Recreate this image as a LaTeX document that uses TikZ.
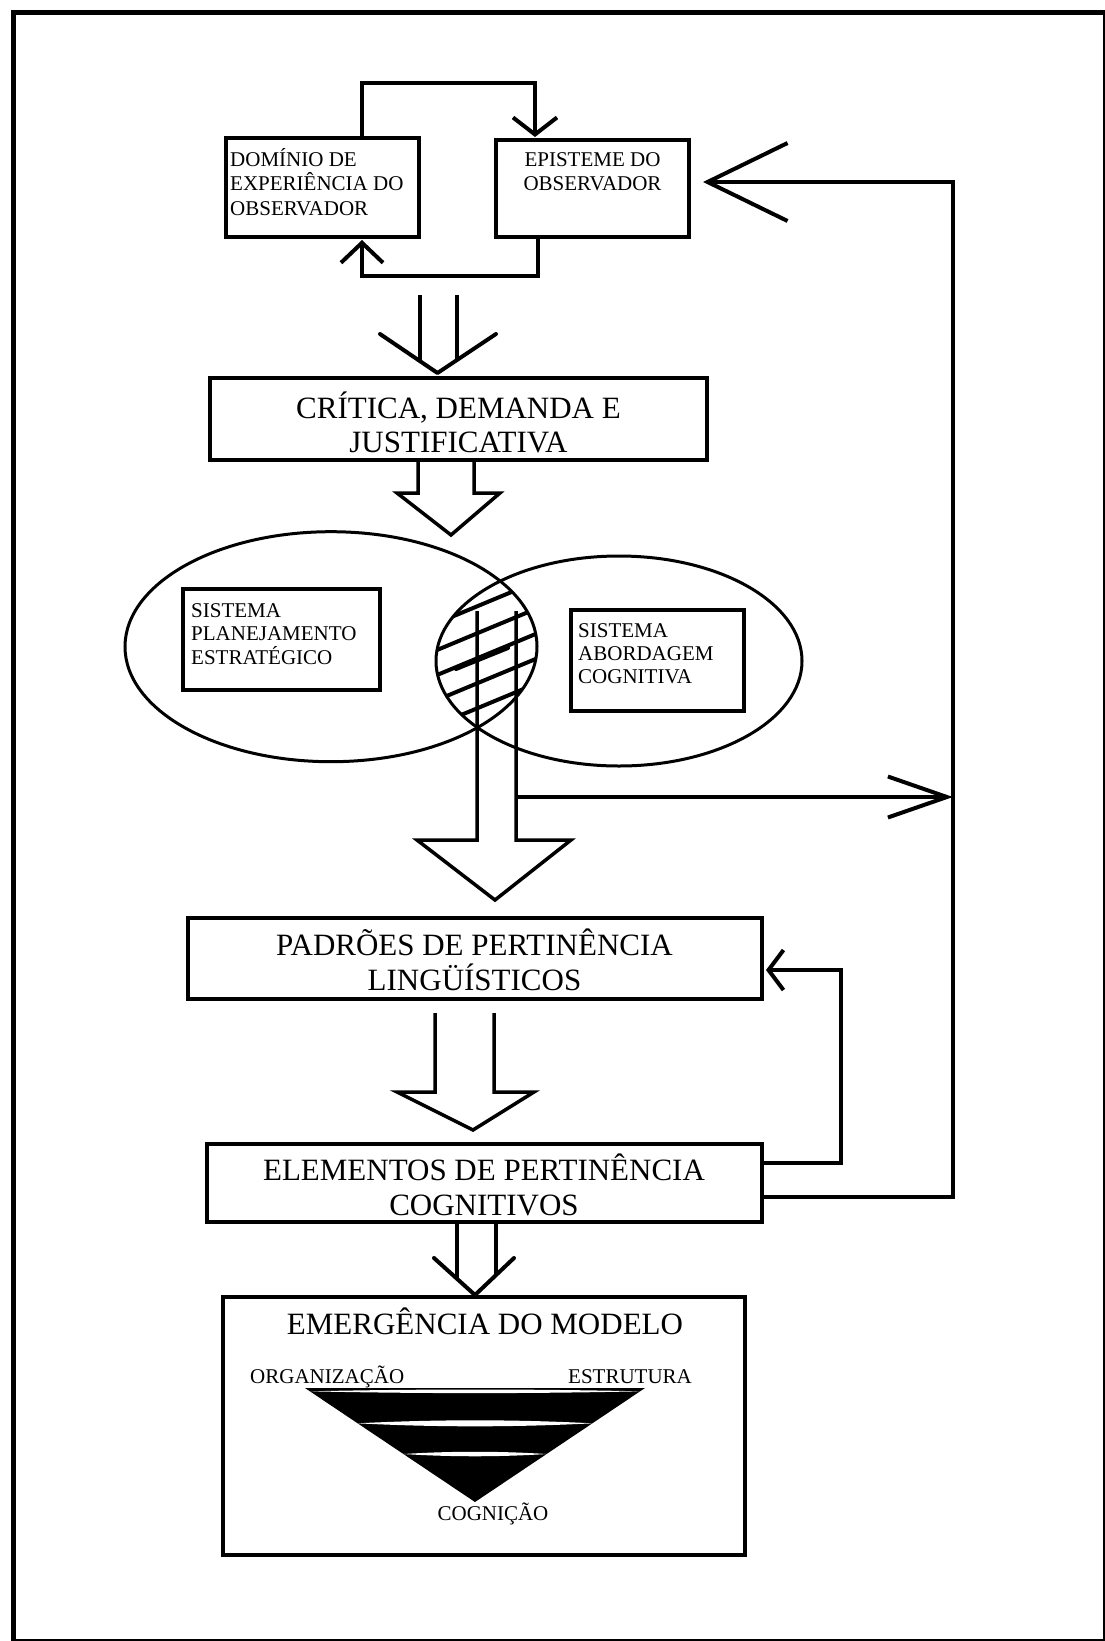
\documentclass[tikz,border=0pt]{standalone}
\usepackage{fontspec}
\setmainfont{Liberation Serif}
\usetikzlibrary{arrows.meta}
\begin{document}
\begin{tikzpicture}[x=1pt,y=-1pt,
  boxst/.style={draw, line width=4pt, rectangle, inner sep=0pt, outer sep=0pt},
  smallbox/.style={draw, line width=3.5pt, rectangle, inner sep=0pt, outer sep=0pt},
  bigtxt/.style={font=\fontsize{31}{35}\selectfont, inner sep=0pt, anchor=base},
  smalltxt/.style={font=\fontsize{21}{24}\selectfont, inner sep=0pt},
  conn/.style={line width=4pt, line join=miter},
  chev/.style={line width=4pt, line join=round, line cap=round},
  blk/.style={line width=3.5pt, line join=miter},
  ell/.style={line width=3pt},
]
\fill[white] (0,0) rectangle (1105,1641);
\useasboundingbox (0,0) rectangle (1105,1641);

% frame
\draw[line width=5pt] (13.5,1641) -- (13.5,12) -- (1105,12);
\draw[line width=2.5pt] (1104,12) -- (1104,1640) -- (13.5,1640);

% top boxes
\node[boxst, minimum width=193pt, minimum height=99pt] (dom) at (322.5,187.5) {};
\node[smalltxt, anchor=base west] (dom1) at (230,166) {DOMÍNIO DE};
\node[smalltxt, anchor=base west] (dom2) at (230,190.5) {EXPERIÊNCIA DO};
\node[smalltxt, anchor=base west] (dom3) at (230,215) {OBSERVADOR};

\node[boxst, minimum width=193pt, minimum height=97pt] (epi) at (592.5,188.5) {};
\node[smalltxt, anchor=base] (epi1) at (592.5,166) {EPISTEME DO};
\node[smalltxt, anchor=base] (epi2) at (592.5,190.5) {OBSERVADOR};

% loops between top boxes
\coordinate (domtop) at (362,137);
\coordinate (epitop) at (535,137);
\coordinate (epibot) at (538,239);
\coordinate (dombot) at (362,240);
\draw[conn, -{Straight Barb[length=17pt,width=44pt]}] (domtop) -- (362,83) -- (535,83) -- (epitop);
\draw[conn, -{Straight Barb[length=20pt,width=42pt]}] (epibot) -- (538,276) -- (362,276) -- (dombot);

% double-line chevron arrow to CRITICA
\coordinate (c1a) at (419.5,295);
\coordinate (c1b) at (457,295);
\draw[conn] (c1a) -- (419.5,361);
\draw[conn] (c1b) -- (457,360);
\draw[chev] (380,334) -- (437.5,373) -- (496,334);

% CRITICA box
\node[boxst, minimum width=497pt, minimum height=82pt] (crit) at (458.5,419) {};
\node[bigtxt] (crit1) at (458.5,418) {CRÍTICA, DEMANDA E};
\node[bigtxt] (crit2) at (458.5,452) {JUSTIFICATIVA};

% hollow arrow below CRITICA
\draw[blk] (418,460) -- (418,493) -- (397,493) -- (451,535) -- (500,493) -- (474,493) -- (474,460);

% ellipses
\draw[ell] (331,646.7) ellipse [x radius=206pt, y radius=115pt];
\draw[ell] (619,661) ellipse [x radius=183pt, y radius=105pt];
\begin{scope}
  \clip (331,646.7) ellipse [x radius=206pt, y radius=115pt];
  \clip (619,661) ellipse [x radius=183pt, y radius=105pt];
  \foreach \yy in {600,628,655,680,705,730} {
    \draw[line width=4pt] (425,\yy) -- (550,\yy-52);
  }
\end{scope}
\draw[line width=4pt, line cap=round] (456,669) -- (508,648);

\node[smallbox, minimum width=197pt, minimum height=101pt] (spl) at (281.5,639.5) {};
\node[smalltxt, anchor=base west] (spl1) at (191,617) {SISTEMA};
\node[smalltxt, anchor=base west] (spl2) at (191,640) {PLANEJAMENTO};
\node[smalltxt, anchor=base west] (spl3) at (191,664) {ESTRATÉGICO};

\node[smallbox, minimum width=173pt, minimum height=101pt] (sab) at (657.5,660.5) {};
\node[smalltxt, anchor=base west] (sab1) at (578,637) {SISTEMA};
\node[smalltxt, anchor=base west] (sab2) at (578,660) {ABORDAGEM};
\node[smalltxt, anchor=base west] (sab3) at (578,683) {COGNITIVA};

% big hollow arrow from intersection
\draw[blk] (477,611) -- (477,840) -- (417,840) -- (495,900) -- (571,840) -- (516,840) -- (516,611);
\coordinate (brs) at (516,797);
\coordinate (brt) at (953,797);
\draw[conn, -{Straight Barb[length=59pt,width=41pt]}] (brs) -- (brt);

% PADROES box
\node[boxst, minimum width=574pt, minimum height=81pt] (pad) at (475,958.5) {};
\node[bigtxt] (pad1) at (474.5,955) {PADRÕES DE PERTINÊNCIA};
\node[bigtxt] (pad2) at (474.5,990) {LINGÜÍSTICOS};

% hollow arrow PADROES -> ELEMENTOS
\draw[blk] (435,1013) -- (435,1092) -- (397,1092) -- (473,1130) -- (534,1092) -- (494,1092) -- (494,1013);

% ELEMENTOS box
\node[boxst, minimum width=555pt, minimum height=78pt] (ele) at (484.5,1183) {};
\node[bigtxt] (ele1) at (484,1180) {ELEMENTOS DE PERTINÊNCIA};
\node[bigtxt] (ele2) at (484,1215) {COGNITIVOS};

% feedback loops
\coordinate (elef) at (762,1163);
\coordinate (padin) at (766,970);
\draw[conn, -{Straight Barb[length=15pt,width=40pt]}] (elef) -- (841,1163) -- (841,970) -- (padin);
\coordinate (eleo) at (762,1197);
\coordinate (epiin) at (703,182);
\draw[conn, -{Straight Barb[length=80pt,width=78pt]}] (eleo) -- (953,1197) -- (953,182) -- (epiin);

% double-line chevron arrow to EMERGENCIA
\coordinate (c2a) at (457,1222);
\coordinate (c2b) at (496,1222);
\draw[conn] (c2a) -- (457,1279);
\draw[conn] (c2b) -- (496,1275);
\draw[chev] (434,1258) -- (475,1295) -- (514,1258);

% EMERGENCIA box
\node[boxst, minimum width=522pt, minimum height=258pt] (emg) at (484,1426) {};
\node[bigtxt] (emg1) at (485,1334) {EMERGÊNCIA DO MODELO};
\node[smalltxt, anchor=base west] (org) at (250,1383) {ORGANIZAÇÃO};
\node[smalltxt, anchor=base west] (est) at (568,1383) {ESTRUTURA};
\node[smalltxt, anchor=base] (cog) at (493,1520) {COGNIÇÃO};

% triangle
\fill[black] (305,1388) -- (645,1388) -- (475,1502) -- cycle;
\fill[white] (310,1391.3) .. controls (420,1388.9) and (530,1388.9) .. (640,1391.3) .. controls (530,1393.7) and (420,1393.7) .. (310,1391.3) -- cycle;
\fill[white] (357.6,1423.3) .. controls (436,1419.3) and (514,1419.3) .. (592.4,1423.3) .. controls (514,1427.3) and (436,1427.3) .. (357.6,1423.3) -- cycle;
\fill[white] (403.4,1454) .. controls (451,1451) and (499,1451) .. (546.6,1454) .. controls (499,1457) and (451,1457) .. (403.4,1454) -- cycle;
\end{tikzpicture}
\end{document}
